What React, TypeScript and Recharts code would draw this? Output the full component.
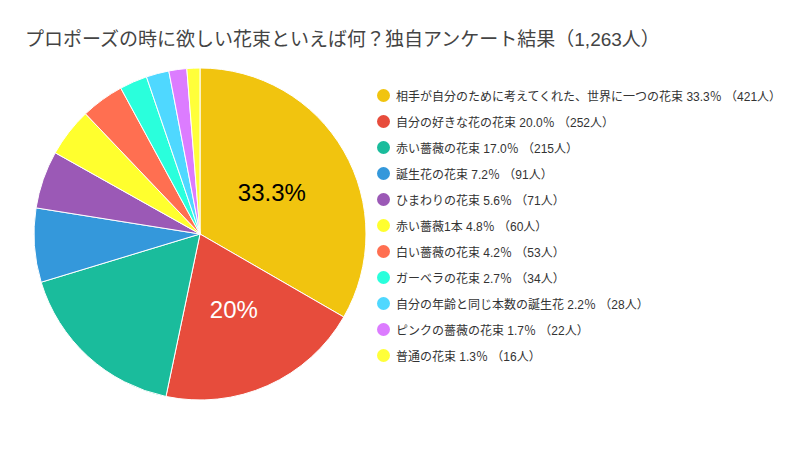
import { PieChart, Pie, Cell } from 'recharts';

const categories = [
    '相手が自分のために考えてくれた、世界に一つの花束',
    '自分の好きな花の花束',
    '赤い薔薇の花束',
    '誕生花の花束',
    'ひまわりの花束',
    '赤い薔薇1本',
    '白い薔薇の花束',
    'ガーベラの花束',
    '自分の年齢と同じ本数の誕生花',
    'ピンクの薔薇の花束',
    '普通の花束',
];
const counts = [421, 252, 215, 91, 71, 60, 53, 34, 28, 22, 16];
const percents = [33.3, 20.0, 17.0, 7.2, 5.6, 4.8, 4.2, 2.7, 2.2, 1.7, 1.3];
const COLORS = [
    '#f1c40f', '#e74c3c', '#1abc9c', '#3498db', '#9b59b6', '#ffff2e',
    '#ff6f51', '#2affdc', '#4fd8ff', '#dc7cff', '#ffff3a',
];
const labelColors = ['#000000', '#ffffff'];

const data = categories.map((name, i) => ({ name, value: counts[i], pct: percents[i] }));

const FONT = '"Liberation Sans", "Noto Sans CJK JP", sans-serif';
const RAD = Math.PI / 180;

function renderLabel(props: any) {
    const { cx, cy, midAngle, outerRadius, index } = props;
    const p = percents[index];
    // only the two largest slices carry a label in the original
    if (p < 20) return null;
    const r = outerRadius * 0.5;
    const x = cx + r * Math.cos(-midAngle * RAD);
    const y = cy + r * Math.sin(-midAngle * RAD);
    return (
        <text x={x} y={y} fill={labelColors[index]} textAnchor="middle" dominantBaseline="central"
            fontSize={24} fontFamily={FONT}>
            {`${Number(p.toFixed(1))}%`}
        </text>
    );
}

export default function App() {
    return (
        <div style={{ position: 'absolute', left: 0, top: 0, width: 800, height: 450, background: '#fff', fontFamily: FONT }}>
            <div style={{ position: 'absolute', left: 25, top: 24, fontSize: 19, color: '#444', whiteSpace: 'nowrap' }}>
                プロポーズの時に欲しい花束といえば何？独自アンケート結果（1,263人）
            </div>
            <PieChart width={800} height={450} margin={{ top: 0, right: 0, bottom: 0, left: 0 }}>
                <Pie
                    data={data}
                    dataKey="value"
                    nameKey="name"
                    cx={200}
                    cy={234}
                    outerRadius={166}
                    startAngle={90}
                    endAngle={-270}
                    stroke="#ffffff"
                    strokeWidth={1}
                    label={renderLabel}
                    labelLine={false}
                    isAnimationActive={false}
                >
                    {data.map((_, i) => (
                        <Cell key={`cell-${i}`} fill={COLORS[i]} />
                    ))}
                </Pie>
            </PieChart>
            <div style={{ position: 'absolute', left: 377, top: 82 }}>
                {data.map((d, i) => (
                    <div key={d.name} style={{ display: 'flex', alignItems: 'center', height: 26, fontSize: 12, color: '#333', whiteSpace: 'nowrap' }}>
                        <span style={{ display: 'inline-block', width: 13, height: 13, borderRadius: '50%', background: COLORS[i], marginRight: 6 }} />
                        {`${d.name} ${d.pct.toFixed(1)}％ （${d.value}人）`}
                    </div>
                ))}
            </div>
        </div>
    );
}
